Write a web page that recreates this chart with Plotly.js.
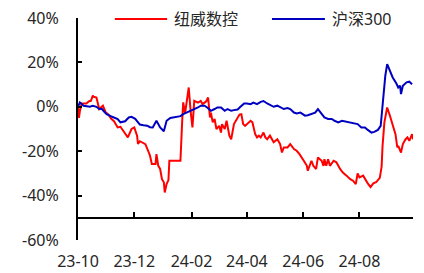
<!DOCTYPE html>
<html>
<head>
<meta charset="utf-8">
<script src="https://cdn.plot.ly/plotly-3.0.1.min.js"></script>
<style>html,body{margin:0;padding:0;background:#fff;}#chart{width:424px;height:273px;}</style>
</head>
<body>
<div id="chart"></div>
<script>
// Series names
const seriesNames = ['纽威数控', '沪深300'];

// 纽威数控 (cumulative return, %)
const redDates = ['2023-10-01','2023-10-02','2023-10-03','2023-10-05','2023-10-10','2023-10-13','2023-10-15','2023-10-17','2023-10-18','2023-10-21','2023-10-24','2023-10-28','2023-10-31','2023-11-03','2023-11-06','2023-11-09','2023-11-13','2023-11-16','2023-11-19','2023-11-21','2023-11-24','2023-11-28','2023-12-01','2023-12-04','2023-12-05','2023-12-07','2023-12-09','2023-12-13','2023-12-16','2023-12-18','2023-12-20','2023-12-24','2023-12-25','2023-12-27','2023-12-29','2023-12-31','2024-01-02','2024-01-03','2024-01-05','2024-01-07','2024-01-08','2024-01-20','2024-01-22','2024-01-23','2024-01-25','2024-01-27','2024-01-29','2024-01-31','2024-02-02','2024-02-04','2024-02-08','2024-02-11','2024-02-13','2024-02-17','2024-02-19','2024-02-21','2024-02-22','2024-02-24','2024-02-26','2024-02-28','2024-03-02','2024-03-04','2024-03-05','2024-03-08','2024-03-10','2024-03-13','2024-03-15','2024-03-18','2024-03-22','2024-03-24','2024-03-26','2024-03-27','2024-03-28','2024-03-30','2024-04-01','2024-04-03','2024-04-05','2024-04-07','2024-04-08','2024-04-10','2024-04-12','2024-04-14','2024-04-16','2024-04-19','2024-04-21','2024-04-23','2024-04-26','2024-04-30','2024-05-04','2024-05-07','2024-05-09','2024-05-11','2024-05-15','2024-05-18','2024-05-22','2024-05-25','2024-05-28','2024-05-31','2024-06-02','2024-06-05','2024-06-06','2024-06-10','2024-06-12','2024-06-15','2024-06-17','2024-06-21','2024-06-23','2024-06-24','2024-06-26','2024-06-28','2024-06-30','2024-07-04','2024-07-07','2024-07-11','2024-07-14','2024-07-18','2024-07-22','2024-07-25','2024-07-28','2024-07-30','2024-08-01','2024-08-05','2024-08-08','2024-08-10','2024-08-13','2024-08-16','2024-08-19','2024-08-23','2024-08-25','2024-08-26','2024-08-28','2024-08-31','2024-09-03','2024-09-06','2024-09-09','2024-09-11','2024-09-12','2024-09-15','2024-09-17','2024-09-20','2024-09-22','2024-09-24','2024-09-27','2024-09-28'];
const redValues = [0,-5,-2,1.5,1.5,2.5,2.7,5,4.5,4.2,-1,0.5,-2.5,-3.5,-5.4,-6.5,-9.3,-9,-10.8,-12,-13.8,-10,-9.3,-13,-16.7,-15.5,-16,-16.8,-19.8,-22,-25.8,-25.8,-21.3,-26.6,-28,-32.6,-34,-38.6,-34.8,-33,-24.3,-24.3,-5.5,2,-3,2.7,8.7,-1.8,-9.3,2.7,1.9,2.7,1.2,2.5,4.2,-4.8,-2.6,-7,-5.5,-10,-8.6,-11.6,-7.8,-10,-6.3,-13,-14.6,-7.8,-4.8,-3.5,-3.3,-7,-7.8,-8.6,-7.8,-7,-6.3,-7,-8.6,-12.3,-13.8,-13,-13.8,-11.6,-13.8,-14.6,-13,-16,-14.6,-16.8,-20.6,-18.3,-18.3,-16.8,-19,-19.8,-21.3,-23.6,-24.5,-26.6,-28.8,-24.3,-26.6,-28,-22.8,-24.3,-26.6,-23.6,-26.6,-23.6,-26.6,-24.3,-25,-28,-29.6,-31,-32.6,-33.3,-34.8,-30,-31.8,-31,-33.5,-34.5,-36.2,-34.5,-34,-32,-27,-17.6,-7,-0.3,-4,-8.6,-12.3,-18.3,-17.6,-20.6,-16.8,-14.6,-13.8,-15.3,-12.3,-14.6];

// 沪深300 (cumulative return, %)
const blueDates = ['2023-10-01','2023-10-03','2023-10-07','2023-10-10','2023-10-14','2023-10-17','2023-10-21','2023-10-24','2023-10-27','2023-10-29','2023-11-01','2023-11-07','2023-11-10','2023-11-13','2023-11-16','2023-11-18','2023-11-21','2023-11-25','2023-11-28','2023-12-02','2023-12-07','2023-12-11','2023-12-15','2023-12-18','2023-12-21','2023-12-25','2023-12-29','2024-01-02','2024-01-05','2024-01-09','2024-01-14','2024-01-20','2024-01-23','2024-01-27','2024-01-31','2024-02-04','2024-02-08','2024-02-11','2024-02-15','2024-02-18','2024-02-22','2024-02-26','2024-02-29','2024-03-04','2024-03-08','2024-03-11','2024-03-15','2024-03-18','2024-03-22','2024-03-25','2024-03-29','2024-04-01','2024-04-05','2024-04-08','2024-04-12','2024-04-16','2024-04-19','2024-04-23','2024-04-26','2024-04-30','2024-05-04','2024-05-07','2024-05-11','2024-05-15','2024-05-18','2024-05-22','2024-05-25','2024-05-29','2024-05-31','2024-06-03','2024-06-06','2024-06-10','2024-06-14','2024-06-17','2024-06-21','2024-06-24','2024-06-28','2024-07-02','2024-07-05','2024-07-09','2024-07-13','2024-07-16','2024-07-20','2024-07-23','2024-07-27','2024-07-30','2024-08-03','2024-08-07','2024-08-10','2024-08-14','2024-08-17','2024-08-21','2024-08-24','2024-08-25','2024-08-27','2024-08-29','2024-08-31','2024-09-03','2024-09-06','2024-09-10','2024-09-12','2024-09-14','2024-09-15','2024-09-17','2024-09-21','2024-09-24','2024-09-27'];
const blueValues = [0,2,0.5,0.2,0,0.5,0,-1,-1,-2,-3.3,-4.5,-5,-5.5,-7,-6.8,-6.5,-4.8,-4.5,-5.4,-8,-8.3,-8.5,-9.2,-9.3,-6.3,-9.3,-11,-6.3,-5,-4.6,-4.2,-3.3,-2.6,-1.8,-1,-0.3,0.5,0.5,-0.3,-1.8,-1,-0.3,-0.3,-1.8,-1,-1.8,-1.5,-1.2,0,1.5,1.5,1.2,1.9,1.2,2.2,2.6,1.5,0.9,0,0.5,-0.3,-1,-0.6,-1,-2.6,-3,-2.6,-3.3,-4,-3.8,-3.3,-2.6,-1,-3.3,-4.8,-5.5,-5.5,-6.3,-7,-6.3,-6.6,-7,-7.2,-7.8,-7.8,-9.3,-9.3,-10.4,-11.6,-11.3,-10.4,-8.6,-4,5,14,19.2,16.2,13.2,10.5,8.7,9.5,5.7,9.5,11,11.3,10.2];

// Axis ticks
const xTickVals = ['2023-10-01','2023-12-01','2024-02-01','2024-04-01','2024-06-01','2024-08-01'];
const xTickText = ['23-10','23-12','24-02','24-04','24-06','24-08'];
const yTickVals = [-60,-40,-20,0,20,40];
const yTickText = ['-60%','-40%','-20%','0%','20%','40%'];

const fontFam = 'Noto Sans, Noto Sans CJK SC, sans-serif';
const xRange = ['2023-10-01','2024-09-28'];

const traces = [
  {x: redDates, y: redValues, name: seriesNames[0], type: 'scatter', mode: 'lines',
   line: {color: '#FF0000', width: 2}, showlegend: false},
  {x: blueDates, y: blueValues, name: seriesNames[1], type: 'scatter', mode: 'lines',
   xaxis: 'x2', line: {color: '#0000C0', width: 2}, showlegend: false}
];

const layout = {
  width: 424, height: 273,
  margin: {l: 78, r: 11, t: 18, b: 33},
  paper_bgcolor: '#fff', plot_bgcolor: '#fff',
  font: {family: fontFam, size: 16, color: '#262626'},
  xaxis: {
    type: 'date', range: xRange, tickmode: 'array', tickvals: xTickVals, ticktext: xTickText,
    showgrid: false, zeroline: false, showline: false,
    ticks: 'outside', ticklen: 7, tickcolor: 'rgba(0,0,0,0)',
    tickfont: {family: fontFam, size: 16, color: '#262626'}
  },
  xaxis2: {
    type: 'date', range: xRange, tickmode: 'array', tickvals: xTickVals, overlaying: 'x',
    anchor: 'free', position: 0.1, side: 'bottom',
    showgrid: false, zeroline: false, showline: true, linecolor: '#000', linewidth: 2,
    ticks: 'inside', ticklen: 5, tickwidth: 2, tickcolor: '#000', showticklabels: false
  },
  yaxis: {
    range: [-60, 40], tickmode: 'array', tickvals: yTickVals, ticktext: yTickText,
    showgrid: false, zeroline: false, showline: true, linecolor: '#000', linewidth: 2,
    ticks: 'inside', ticklen: 4, tickwidth: 2, tickcolor: '#000',
    ticklabelstandoff: 14,
    tickfont: {family: fontFam, size: 16, color: '#262626'}
  },
  shapes: [
    {type: 'line', xref: 'paper', yref: 'paper', x0: 0.110, x1: 0.266, y0: 0.995, y1: 0.995,
     line: {color: '#FF0000', width: 2}},
    {type: 'line', xref: 'paper', yref: 'paper', x0: 0.579, x1: 0.737, y0: 0.995, y1: 0.995,
     line: {color: '#0000C0', width: 2}}
  ],
  annotations: [
    {xref: 'paper', yref: 'paper', x: 0.281, y: 0.995, xanchor: 'left', yanchor: 'middle',
     text: seriesNames[0], showarrow: false, font: {family: fontFam, size: 16, color: '#262626'}},
    {xref: 'paper', yref: 'paper', x: 0.752, y: 0.995, xanchor: 'left', yanchor: 'middle',
     text: seriesNames[1], showarrow: false, font: {family: fontFam, size: 16, color: '#262626'}}
  ]
};

Plotly.newPlot('chart', traces, layout, {displayModeBar: false, staticPlot: true});
</script>
</body>
</html>
